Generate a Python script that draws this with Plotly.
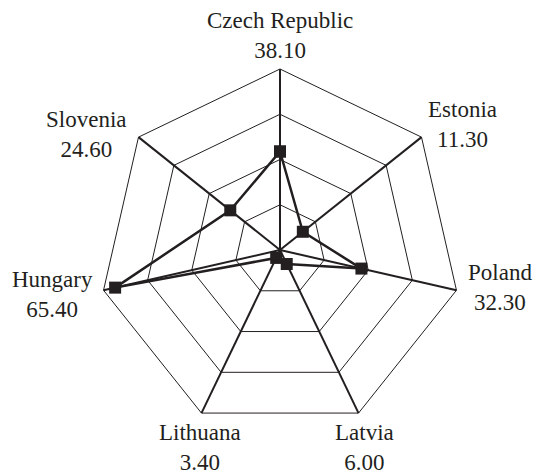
import plotly.graph_objects as go

categories = ["Czech Republic", "Estonia", "Poland", "Latvia", "Lithuana", "Hungary", "Slovenia"]
values = [38.10, 11.30, 32.30, 6.00, 3.40, 65.40, 24.60]
radial_max = 70
ring_values = [17.5, 35, 52.5, 70]

ink = "#231f20"
W, H = 535, 475
cx, cy, R = 280, 250, 181

# label block centres (pixels from top-left), layout only
label_xy = [(280, 35), (462, 125), (500, 287), (364, 447), (200, 447), (52, 294), (86, 134)]

fig = go.Figure()
fig.add_trace(go.Scatterpolar(
    r=values + [values[0]],
    theta=categories + [categories[0]],
    mode="lines+markers",
    line=dict(color=ink, width=2.5),
    marker=dict(symbol="square", size=12, color=ink),
    showlegend=False,
    hoverinfo="skip",
))

annotations = []
for c, v, (px, py) in zip(categories, values, label_xy):
    annotations.append(dict(
        text=f"{c}<br>{v:.2f}", x=px / W, y=1 - py / H,
        xref="paper", yref="paper",
        xanchor="center", yanchor="middle", align="center", showarrow=False,
        font=dict(family="Liberation Serif", size=23, color=ink),
    ))

fig.update_layout(
    width=W, height=H,
    margin=dict(l=0, r=0, t=0, b=0),
    paper_bgcolor="white",
    font=dict(family="Liberation Serif", size=23, color=ink),
    annotations=annotations,
    polar=dict(
        domain=dict(x=[(cx - R) / W, (cx + R) / W], y=[(H - cy - R) / H, (H - cy + R) / H]),
        bgcolor="white",
        gridshape="linear",
        radialaxis=dict(
            range=[0, radial_max], tickvals=ring_values, showticklabels=False,
            ticks="", showline=False, gridcolor=ink, gridwidth=1,
        ),
        angularaxis=dict(
            direction="clockwise", rotation=90,
            tickvals=categories, showticklabels=False, ticks="",
            showline=True, linecolor=ink, linewidth=1,
            gridcolor=ink, gridwidth=2,
        ),
    ),
)

fig.write_html(
    "out.html",
    config={"displayModeBar": False},
    post_script="document.body.style.margin='0';document.body.style.overflow='hidden';",
)
